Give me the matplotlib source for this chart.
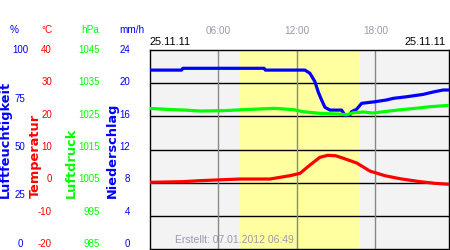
import matplotlib
matplotlib.use("Agg")
import matplotlib.pyplot as plt
from matplotlib.transforms import blended_transform_factory

# data (hours of day)
hum_hours = [0.79, 3.2, 3.3, 9.5, 9.6, 11.47, 12.62, 13.0, 13.38, 13.63, 13.89, 14.15, 14.53,
             15.42, 15.67, 16.05, 16.18, 16.56, 16.95, 17.97, 18.86, 19.36, 20.38, 21.65,
             22.41, 23.18, 23.62]
humidity = [89.9, 89.9, 90.8, 90.8, 89.9, 89.9, 89.9, 88.3, 84.1, 79.0, 74.9, 71.2, 69.8,
            69.8, 67.3, 67.3, 69.0, 70.2, 73.2, 74.0, 74.9, 75.7, 76.5, 77.7,
            78.9, 79.9, 79.9]

pres_hours = [0.79, 2.09, 3.39, 4.6, 6.36, 8.42, 10.33, 11.78, 12.47, 13.76, 15.06, 15.82,
              16.35, 17.1, 17.8, 18.65, 19.72, 21.02, 22.17, 23.62]
pressure = [1027.4, 1027.1, 1026.9, 1026.6, 1026.7, 1027.1, 1027.4, 1027.0, 1026.4, 1025.9,
            1025.7, 1025.5, 1026.1, 1026.3, 1026.0, 1026.4, 1026.9, 1027.4, 1027.9, 1028.3]

temp_hours = [0.79, 3.31, 4.6, 7.66, 9.95, 11.47, 12.24, 13.0, 13.76, 14.37, 14.98, 15.67,
              16.59, 17.58, 18.73, 19.87, 21.4, 22.55, 23.62]
temperature = [0.1, 0.3, 0.6, 1.1, 1.1, 2.1, 2.8, 5.3, 7.65, 8.25, 8.1, 7.2, 5.9, 3.5, 2.1,
               1.2, 0.3, -0.2, -0.5]

sunrise, sunset = 7.66, 16.67
time_ticks = [6, 12, 18]
time_labels = ["06:00", "12:00", "18:00"]
date_label = "25.11.11"

hum_ticks = [100, 75, 50, 25, 0]
temp_ticks = [40, 30, 20, 10, 0, -10, -20]
pres_ticks = [1045, 1035, 1025, 1015, 1005, 995, 985]
rain_ticks = [24, 20, 16, 12, 8, 4, 0]

BLUE = "#0000ff"
RED = "#ff0000"
GREEN = "#00ff00"
GRAY = "#9999aa"

fig = plt.figure(figsize=(4.5, 2.5), dpi=100)
W, H = 450, 250
ax = fig.add_axes([150 / W, 1 - 249 / H, 299 / W, 199 / H])
ax.set_xlim(0.79, 23.62)
ax.set_ylim(-20, 40)
ax.set_facecolor("#f3f3f3")
ax.axvspan(sunrise, sunset, color="#ffffa0", zorder=0)
for t in [-10, 0, 10, 20, 30]:
    ax.axhline(t, color="black", lw=1, zorder=1)
for h in time_ticks:
    ax.axvline(h, color="#888888", lw=1, zorder=1)
for s in ax.spines.values():
    s.set_linewidth(1)
ax.set_xticks([])
ax.set_yticks([])

# all series drawn on the temperature scale
ax.plot(hum_hours, [-20 + 0.6 * v for v in humidity], color=BLUE, lw=2.3, zorder=3)
ax.plot(pres_hours, [p - 1005 for p in pressure], color=GREEN, lw=2.3, zorder=3)
ax.plot(temp_hours, temperature, color=RED, lw=2.3, zorder=3)

# scale labels: columns run from y=50px (top value) to y=244px (bottom value)
fs = 7
font = "Liberation Sans"
TOP, BOT = 50, 244


def label_col(ticks, x, color, ha):
    hi, lo = ticks[0], ticks[-1]
    for v in ticks:
        y = TOP + (hi - v) / (hi - lo) * (BOT - TOP)
        fig.text(x / W, 1 - y / H, str(v), color=color, fontsize=fs, family=font,
                 ha=ha, va="center")


label_col(hum_ticks, 20, BLUE, "center")
label_col(temp_ticks, 52, RED, "right")
label_col(pres_ticks, 100, GREEN, "right")
label_col(rain_ticks, 130, BLUE, "right")

# unit headers
for x, s, c in [(14, "%", BLUE), (47, "°C", RED), (90, "hPa", GREEN), (132, "mm/h", BLUE)]:
    fig.text(x / W, 1 - 30 / H, s, color=c, fontsize=7.2, family=font, ha="center", va="center")

# rotated axis names
for x, s, c in [(5.5, "Luftfeuchtigkeit", BLUE), (35, "Temperatur", RED),
                (71, "Luftdruck", GREEN), (112, "Niederschlag", BLUE)]:
    fig.text(x / W, 1 - 198 / H, s, color=c, fontsize=9.3, fontweight="bold",
             family="DejaVu Sans", rotation=90, ha="center", va="bottom")

# time labels
trx = blended_transform_factory(ax.transData, fig.transFigure)
for h, s in zip(time_ticks, time_labels):
    fig.text(h, 1 - 31 / H, s, transform=trx, color=GRAY, fontsize=7.2, family=font,
             ha="center", va="center")

fig.text(150 / W, 1 - 42 / H, date_label, fontsize=7.8, family=font, ha="left", va="center")
fig.text(446 / W, 1 - 42 / H, date_label, fontsize=7.8, family=font, ha="right", va="center")
fig.text(175 / W, 1 - 240 / H, "Erstellt: 07.01.2012 06:49", color=GRAY, fontsize=7.5,
         family=font, ha="left", va="center")

fig.savefig("out.png", dpi=100)
